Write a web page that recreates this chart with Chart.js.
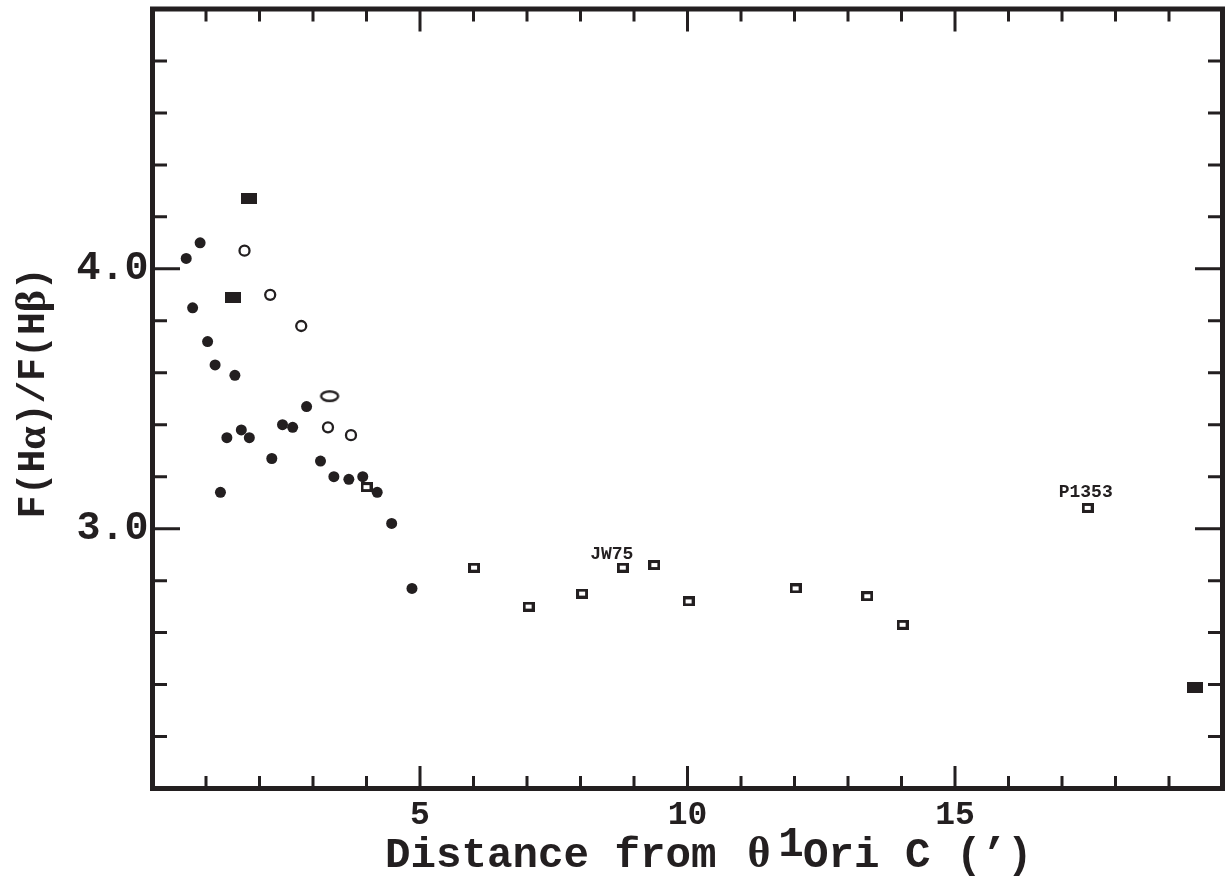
<!DOCTYPE html>
<html lang="en">
<head>
<meta charset="UTF-8">
<title>F(Hα)/F(Hβ) vs distance</title>
<script src="https://cdn.jsdelivr.net/npm/chart.js"></script>
<style>
  html, body { margin: 0; padding: 0; background: #fff; }
  #wrap { width: 1228px; height: 882px; }
</style>
</head>
<body>
<div id="wrap"><canvas id="ratioChart"></canvas></div>
<script>
// filled circles
const dotX = [0.63, 0.89, 0.75, 1.03, 1.17, 1.54, 1.39, 1.66, 1.81, 1.27, 2.23, 2.43, 2.62, 2.88, 3.14, 3.39, 3.67, 3.93, 4.20, 4.47, 4.85];
const dotY = [4.04, 4.10, 3.85, 3.72, 3.63, 3.59, 3.35, 3.38, 3.35, 3.14, 3.27, 3.40, 3.39, 3.47, 3.26, 3.20, 3.19, 3.20, 3.14, 3.02, 2.77];
// open circles
const ringX = [1.72, 2.20, 2.78, 3.28, 3.71];
const ringY = [4.07, 3.90, 3.78, 3.39, 3.36];
// open ellipse
const ovalX = [3.31];
const ovalY = [3.51];
// filled rectangles
const blockX = [1.81, 1.51, 19.49];
const blockY = [4.27, 3.89, 2.39];
// open rectangles
const boxX = [4.00, 6.01, 7.03, 8.03, 8.79, 9.38, 10.02, 12.02, 13.36, 14.02, 17.48];
const boxY = [3.16, 2.85, 2.70, 2.75, 2.85, 2.86, 2.72, 2.77, 2.74, 2.63, 3.08];
// named open rectangles
const tagNames = ['JW75', 'P1353'];
const tagIndex = [4, 10];

// axis ticks
const xMajor = [5, 10, 15];
const xMinor = [1, 2, 3, 4, 6, 7, 8, 9, 11, 12, 13, 14, 16, 17, 18, 19];
const yMajor = [3, 4];
const yMinor = [2.2, 2.4, 2.6, 2.8, 3.2, 3.4, 3.6, 3.8, 4.2, 4.4, 4.6, 4.8];

const ink = '#231f20';
const mono = '"Liberation Mono", "Courier New", monospace';
const serif = '"Liberation Serif", "Times New Roman", serif';

function pts(xs, ys) {
    return xs.map((x, i) => ({ x: x, y: ys[i] }));
}

function makeMark(w, h, draw) {
    const c = document.createElement('canvas');
    c.width = w;
    c.height = h;
    draw(c.getContext('2d'));
    return c;
}

const blockMark = makeMark(16, 11, g => {
    g.fillStyle = ink;
    g.fillRect(0, 0, 16, 11);
});
const boxMark = makeMark(12, 10, g => {
    g.strokeStyle = ink;
    g.lineWidth = 3;
    g.strokeRect(1.5, 1.5, 9, 7);
});
const ovalMark = makeMark(22, 14, g => {
    g.strokeStyle = ink;
    g.lineWidth = 2.4;
    g.beginPath();
    g.ellipse(11, 7, 8.5, 4.8, 0, 0, 2 * Math.PI);
    g.stroke();
});

// frame, inward ticks, titles and point names
const framePlugin = {
    id: 'frame',
    afterDraw(chart) {
        const ctx = chart.ctx;
        const a = chart.chartArea;
        const xs = chart.scales.x;
        const ys = chart.scales.y;
        ctx.save();
        ctx.strokeStyle = ink;
        ctx.lineWidth = 5;
        ctx.strokeRect(a.left, a.top, a.right - a.left, a.bottom - a.top);

        ctx.lineWidth = 3;
        ctx.beginPath();
        const xTick = (v, len) => {
            const px = xs.getPixelForValue(v);
            ctx.moveTo(px, a.bottom);
            ctx.lineTo(px, a.bottom - 2.5 - len);
            ctx.moveTo(px, a.top);
            ctx.lineTo(px, a.top + 2.5 + len);
        };
        const yTick = (v, len) => {
            const py = ys.getPixelForValue(v);
            ctx.moveTo(a.left, py);
            ctx.lineTo(a.left + 2.5 + len, py);
            ctx.moveTo(a.right, py);
            ctx.lineTo(a.right - 2.5 - len, py);
        };
        xMinor.forEach(v => xTick(v, 10));
        xMajor.forEach(v => xTick(v, 20));
        yMinor.forEach(v => yTick(v, 12));
        yMajor.forEach(v => yTick(v, 25));
        ctx.stroke();

        ctx.fillStyle = ink;

        // names next to two of the open rectangles
        ctx.font = 'bold 18px ' + mono;
        ctx.textAlign = 'center';
        ctx.textBaseline = 'middle';
        const tagShift = [[-11, -13], [-2, -15]];
        tagNames.forEach((name, i) => {
            const k = tagIndex[i];
            ctx.fillText(name, xs.getPixelForValue(boxX[k]) + tagShift[i][0],
                ys.getPixelForValue(boxY[k]) + tagShift[i][1]);
        });

        // x title: Distance from θ1Ori C (’)
        ctx.textAlign = 'left';
        ctx.textBaseline = 'alphabetic';
        const base = 867;
        ctx.font = 'bold 42.5px ' + mono;
        ctx.fillText('Distance from ', 385, base);
        ctx.fillText('Ori C (’)', 803, base);
        ctx.textAlign = 'center';
        ctx.fillText('1', 791, base - 11);
        ctx.font = 'bold 44px ' + serif;
        ctx.fillText('θ', 759, base);

        // y title: F(Hα)/F(Hβ)
        ctx.textAlign = 'left';
        const parts = [
            ['F(H', 'bold 38px ' + mono],
            ['α', 'bold 42px ' + serif],
            [')/F(H', 'bold 38px ' + mono],
            ['β', 'bold 42px ' + serif],
            [')', 'bold 38px ' + mono]
        ];
        let total = 0;
        parts.forEach(p => { ctx.font = p[1]; total += ctx.measureText(p[0]).width; });
        ctx.translate(34, (a.top + a.bottom) / 2 - 6);
        ctx.rotate(-Math.PI / 2);
        ctx.textBaseline = 'middle';
        let ty = -total / 2;
        parts.forEach(p => {
            ctx.font = p[1];
            ctx.fillText(p[0], ty, 0);
            ty += ctx.measureText(p[0]).width;
        });
        ctx.restore();
    }
};

new Chart(document.getElementById('ratioChart'), {
    type: 'scatter',
    data: {
        datasets: [
            {
                label: 'filled circles',
                data: pts(dotX, dotY),
                pointStyle: 'circle',
                pointRadius: 5.5,
                backgroundColor: ink,
                borderWidth: 0
            },
            {
                label: 'open circles',
                data: pts(ringX, ringY),
                pointStyle: 'circle',
                pointRadius: 5,
                backgroundColor: '#fff',
                borderColor: ink,
                borderWidth: 2.3
            },
            {
                label: 'ellipse',
                data: pts(ovalX, ovalY),
                pointStyle: ovalMark
            },
            {
                label: 'filled rectangles',
                data: pts(blockX, blockY),
                pointStyle: blockMark
            },
            {
                label: 'open rectangles',
                data: pts(boxX, boxY),
                pointStyle: boxMark
            }
        ]
    },
    options: {
        responsive: true,
        maintainAspectRatio: false,
        animation: false,
        layout: { autoPadding: false, padding: { top: 9, right: 5.5, left: 0, bottom: 0 } },
        plugins: {
            legend: { display: false },
            tooltip: { enabled: false }
        },
        scales: {
            x: {
                type: 'linear',
                min: 0,
                max: 20,
                grid: { display: false, drawTicks: false },
                border: { display: false },
                ticks: {
                    stepSize: 5,
                    autoSkip: false,
                    maxRotation: 0,
                    padding: 7,
                    color: ink,
                    font: { family: mono, size: 33, weight: 'bold' },
                    callback: v => (v === 0 || v === 20) ? '' : String(v)
                },
                afterFit: s => {
                    s.height = 93.5;
                    s.paddingLeft = 0;
                    s.paddingRight = 0;
                }
            },
            y: {
                type: 'linear',
                min: 2,
                max: 5,
                grid: { display: false, drawTicks: false },
                border: { display: false },
                ticks: {
                    stepSize: 1,
                    autoSkip: false,
                    padding: 4,
                    color: ink,
                    font: { family: mono, size: 40, weight: 'bold' },
                    callback: v => (v === 3 || v === 4) ? v.toFixed(1) : ''
                },
                afterFit: s => {
                    s.width = 152.5;
                    s.paddingTop = 0;
                    s.paddingBottom = 0;
                }
            }
        }
    },
    plugins: [framePlugin]
});
</script>
</body>
</html>
